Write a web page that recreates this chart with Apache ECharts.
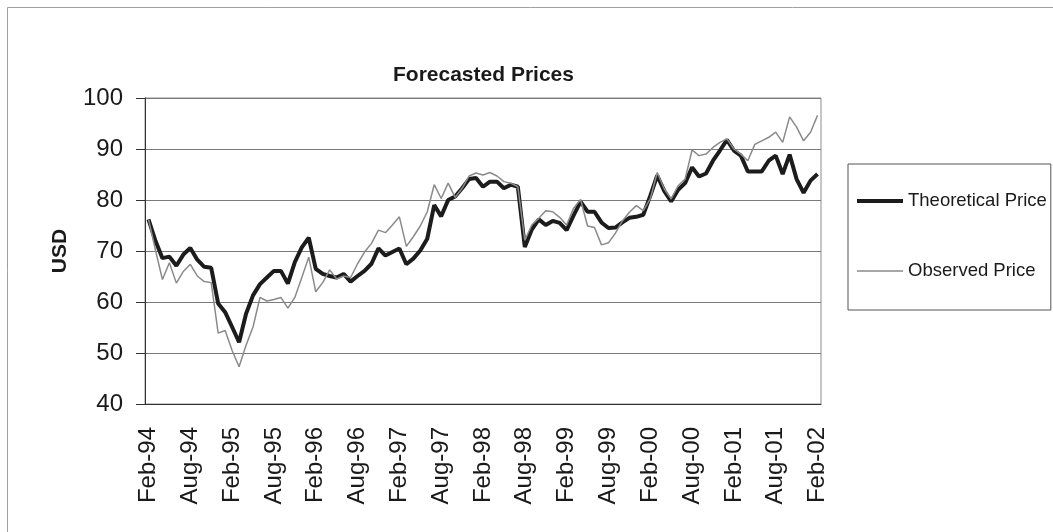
<!DOCTYPE html>
<html>
<head>
<meta charset="utf-8">
<title>Forecasted Prices</title>
<script src="https://cdn.jsdelivr.net/npm/echarts@6/dist/echarts.min.js"></script>
<style>
  html, body { margin: 0; padding: 0; background: #fff; }
  #chart { width: 1053px; height: 532px; }
</style>
</head>
<body>
<div id="chart"></div>
<script>
// month labels, Feb-94 .. Feb-02
const months = [
  'Feb-94', 'Mar-94', 'Apr-94', 'May-94', 'Jun-94', 'Jul-94', 'Aug-94', 'Sep-94', 'Oct-94', 'Nov-94', 'Dec-94', 'Jan-95',
  'Feb-95', 'Mar-95', 'Apr-95', 'May-95', 'Jun-95', 'Jul-95', 'Aug-95', 'Sep-95', 'Oct-95', 'Nov-95', 'Dec-95', 'Jan-96',
  'Feb-96', 'Mar-96', 'Apr-96', 'May-96', 'Jun-96', 'Jul-96', 'Aug-96', 'Sep-96', 'Oct-96', 'Nov-96', 'Dec-96', 'Jan-97',
  'Feb-97', 'Mar-97', 'Apr-97', 'May-97', 'Jun-97', 'Jul-97', 'Aug-97', 'Sep-97', 'Oct-97', 'Nov-97', 'Dec-97', 'Jan-98',
  'Feb-98', 'Mar-98', 'Apr-98', 'May-98', 'Jun-98', 'Jul-98', 'Aug-98', 'Sep-98', 'Oct-98', 'Nov-98', 'Dec-98', 'Jan-99',
  'Feb-99', 'Mar-99', 'Apr-99', 'May-99', 'Jun-99', 'Jul-99', 'Aug-99', 'Sep-99', 'Oct-99', 'Nov-99', 'Dec-99', 'Jan-00',
  'Feb-00', 'Mar-00', 'Apr-00', 'May-00', 'Jun-00', 'Jul-00', 'Aug-00', 'Sep-00', 'Oct-00', 'Nov-00', 'Dec-00', 'Jan-01',
  'Feb-01', 'Mar-01', 'Apr-01', 'May-01', 'Jun-01', 'Jul-01', 'Aug-01', 'Sep-01', 'Oct-01', 'Nov-01', 'Dec-01', 'Jan-02',
  'Feb-02'
]

// theoretical price (thick line)
const theoretical = [
  76.2, 72.0, 68.6, 68.9, 67.1, 69.3, 70.6, 68.3, 66.9, 66.7, 59.7, 58.0,
  55.1, 52.1, 57.7, 61.3, 63.5, 64.8, 66.1, 66.1, 63.6, 67.8, 70.7, 72.6,
  66.5, 65.5, 65.1, 64.8, 65.5, 64.0, 65.1, 66.1, 67.5, 70.5, 69.1, 69.8,
  70.5, 67.4, 68.5, 70.1, 72.4, 79.0, 76.8, 80.0, 80.7, 82.3, 84.1, 84.3,
  82.6, 83.6, 83.6, 82.3, 83.0, 82.6, 70.8, 74.2, 76.2, 75.1, 75.9, 75.5,
  74.1, 77.0, 79.7, 77.7, 77.7, 75.6, 74.5, 74.6, 75.6, 76.5, 76.7, 77.1,
  80.8, 84.8, 81.8, 79.7, 82.0, 83.3, 86.4, 84.6, 85.2, 87.7, 89.7, 91.8,
  89.7, 88.7, 85.6, 85.6, 85.6, 87.7, 88.7, 85.1, 88.9, 84.1, 81.4, 83.8,
  85.1
]

// observed price (thin line)
const observed = [
  76.2, 70.2, 64.4, 67.7, 63.7, 66.0, 67.4, 65.1, 64.0, 63.8, 53.9, 54.4,
  50.5, 47.3, 51.5, 55.1, 60.9, 60.2, 60.5, 60.9, 58.8, 60.9, 64.8, 68.8,
  62.0, 63.8, 66.3, 64.5, 65.1, 64.8, 67.5, 69.8, 71.5, 74.1, 73.6, 75.1,
  76.7, 70.9, 72.8, 74.9, 77.7, 83.0, 80.3, 83.3, 80.5, 82.3, 84.7, 85.3,
  84.9, 85.4, 84.7, 83.6, 83.3, 82.6, 72.1, 75.1, 76.4, 77.9, 77.7, 76.6,
  75.1, 78.4, 80.1, 74.9, 74.6, 71.2, 71.6, 73.5, 75.9, 77.6, 78.9, 77.9,
  80.2, 85.4, 82.2, 80.2, 82.8, 84.1, 89.8, 88.7, 89.0, 90.3, 91.3, 92.0,
  90.0, 89.0, 87.7, 90.9, 91.6, 92.3, 93.3, 91.3, 96.3, 94.3, 91.6, 93.3,
  96.6
]

const font = '"Liberation Sans", Arial, sans-serif'
const chart = echarts.init(document.getElementById('chart'))

chart.setOption({
  animation: false,
  backgroundColor: '#fff',
  textStyle: { fontFamily: font, color: '#1a1a1a' },
  title: {
    text: 'Forecasted Prices',
    left: 393,
    top: 65,
    padding: 0,
    textStyle: { fontFamily: font, fontSize: 21, fontWeight: 'bold', color: '#1a1a1a' }
  },
  // outer frame of the chart area
  graphic: [
    {
      type: 'rect',
      shape: { x: 7.5, y: 7.5, width: 1100, height: 600 },
      style: { fill: 'none', stroke: '#a0a0a0', lineWidth: 1 },
      silent: true
    }
  ],
  legend: {
    orient: 'vertical',
    left: 848,
    top: 164,
    padding: [27, 4, 29, 7],
    itemGap: 50,
    itemWidth: 46,
    itemHeight: 20,
    borderColor: '#555',
    borderWidth: 1,
    // hide the symbol in the middle of the line icon
    itemStyle: { color: 'transparent', borderWidth: 0 },
    textStyle: { fontFamily: font, fontSize: 18.5, color: '#1a1a1a', lineHeight: 20 },
    data: [
      { name: 'Theoretical Price', lineStyle: { width: 4, color: '#1c1c1c' } },
      { name: 'Observed Price', lineStyle: { width: 1.5, color: '#8a8a8a' } }
    ]
  },
  grid: {
    left: 145,
    right: 232,
    top: 98,
    bottom: 128,
    show: true,
    borderColor: '#8c8c8c',
    borderWidth: 1
  },
  xAxis: {
    type: 'category',
    data: months,
    boundaryGap: true,
    axisLine: { lineStyle: { color: '#333', width: 1 } },
    axisTick: { interval: 5, length: 8, lineStyle: { color: '#333' } },
    axisLabel: {
      interval: 5,
      rotate: 90,
      margin: 23,
      fontSize: 24,
      color: '#1a1a1a'
    },
    splitLine: { show: false }
  },
  yAxis: {
    type: 'value',
    min: 40,
    max: 100,
    interval: 10,
    name: 'USD',
    nameLocation: 'middle',
    nameGap: 74,
    nameTextStyle: { fontFamily: font, fontSize: 21, fontWeight: 'bold', color: '#1a1a1a' },
    axisLine: { show: true, lineStyle: { color: '#333', width: 1 } },
    axisTick: { show: true, length: 9, lineStyle: { color: '#333' } },
    axisLabel: { margin: 22, fontSize: 24, color: '#1a1a1a' },
    splitLine: { lineStyle: { color: '#7a7a7a', width: 1 } }
  },
  series: [
    {
      name: 'Theoretical Price',
      type: 'line',
      data: theoretical,
      symbol: 'none',
      color: '#1c1c1c',
      lineStyle: { color: '#1c1c1c', width: 4 }
    },
    {
      name: 'Observed Price',
      type: 'line',
      data: observed,
      symbol: 'none',
      color: '#8a8a8a',
      lineStyle: { color: '#8a8a8a', width: 1.5 }
    }
  ]
})
</script>
</body>
</html>
